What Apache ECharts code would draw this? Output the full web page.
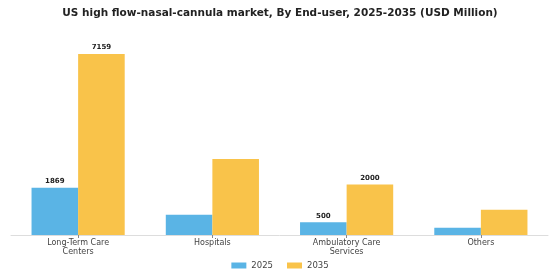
<!DOCTYPE html>
<html><head><meta charset="utf-8">
<script src="https://cdn.jsdelivr.net/npm/echarts@6/dist/echarts.min.js"></script>
<style>html,body{margin:0;padding:0;background:#fff}#c{width:560px;height:280px}</style>
</head><body><div id="c"></div>
<script>
const categories = ['Long-Term Care\nCenters', 'Hospitals', 'Ambulatory Care\nServices', 'Others'];
const values2025 = [1869, 805, 500, 290];
const values2035 = [7159, 3005, 2000, 1000];
const labeled2025 = [true, false, true, false];
const labeled2035 = [true, false, true, false];
const seriesNames = ['2025', '2035'];
const titleText = 'US high flow-nasal-cannula market, By End-user, 2025-2035 (USD Million)';

function mk(vals, flags) {
  return vals.map((v, i) => ({ value: v, label: { show: flags[i] } }));
}
const chart = echarts.init(document.getElementById('c'), null, { renderer: 'canvas' });
chart.setOption({
  animation: false,
  title: { text: titleText, left: 'center', top: 3,
    textStyle: { fontFamily: 'DejaVu Sans', fontWeight: 'bold', fontSize: 10.5, color: '#222' } },
  legend: { bottom: 5, left: 'center', itemWidth: 15, itemHeight: 6, itemGap: 14, icon: 'rect',
    textStyle: { fontFamily: 'DejaVu Sans', fontSize: 8.5, color: '#444' } },
  grid: { left: 11, right: 12, top: 40, bottom: 45, containLabel: false },
  xAxis: { type: 'category', data: categories,
    axisLine: { lineStyle: { color: '#ddd' } },
    axisTick: { show: true, alignWithLabel: true, length: 3, lineStyle: { color: '#888' } },
    axisLabel: { fontFamily: 'DejaVu Sans', fontSize: 8, color: '#444', margin: 4, lineHeight: 8.5, interval: 0 } },
  yAxis: { type: 'value', min: 0, max: 7713, show: false, splitLine: { show: false } },
  series: [
    { name: seriesNames[0], type: 'bar', data: mk(values2025, labeled2025), barGap: '0%', barCategoryGap: '30.6%',
      itemStyle: { color: '#5AB4E5' },
      label: { position: 'top', fontFamily: 'DejaVu Sans', fontWeight: 'bold', fontSize: 7, color: '#222', distance: 3 } },
    { name: seriesNames[1], type: 'bar', data: mk(values2035, labeled2035), barGap: '0%', barCategoryGap: '30.6%',
      itemStyle: { color: '#F9C34A' },
      label: { position: 'top', fontFamily: 'DejaVu Sans', fontWeight: 'bold', fontSize: 7, color: '#222', distance: 3 } }
  ]
});
</script></body></html>
